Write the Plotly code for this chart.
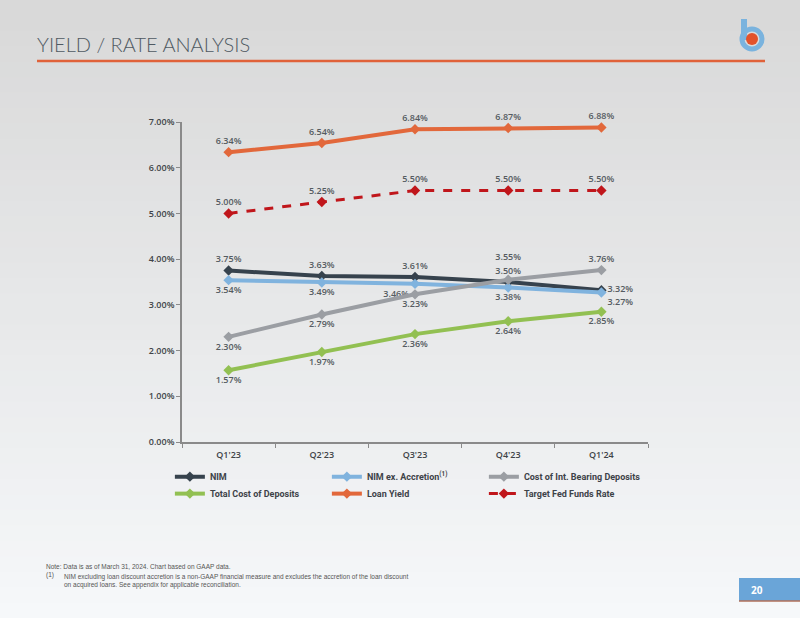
import plotly.graph_objects as go

quarters = ["Q1'23", "Q2'23", "Q3'23", "Q4'23", "Q1'24"]
nim = [3.75, 3.63, 3.61, 3.50, 3.32]
nim_ex = [3.54, 3.49, 3.46, 3.38, 3.27]
cost_ibd = [2.30, 2.79, 3.23, 3.55, 3.76]
total_cost = [1.57, 1.97, 2.36, 2.64, 2.85]
loan_yield = [6.34, 6.54, 6.84, 6.87, 6.88]
fed_funds = [5.00, 5.25, 5.50, 5.50, 5.50]
y_ticks = [0, 1, 2, 3, 4, 5, 6, 7]

W, H = 800, 618
L, R, T, B = 182, 152, 122, 176

# (name, values, colour, dashed, label positions, labels pushed up a line, legend row)
series = [
    ("NIM", nim, '#36424d', False,
     ['top center', 'top center', 'top center', 'top center', 'middle right'], [], 'legend'),
    ("NIM ex. Accretion<sup>(1)</sup>", nim_ex, '#80b3de', False,
     ['bottom center', 'bottom center', 'bottom left', 'bottom center', 'bottom right'], [], 'legend'),
    ("Cost of Int. Bearing Deposits", cost_ibd, '#9b9ea3', False,
     ['bottom center', 'bottom center', 'bottom center', 'top center', 'top center'], [3], 'legend'),
    ("Total Cost of Deposits", total_cost, '#92c052', False, ['bottom center'] * 5, [], 'legend2'),
    ("Loan Yield", loan_yield, '#e2683b', False, ['top center'] * 5, [], 'legend2'),
    ("Target Fed Funds Rate", fed_funds, '#c0161b', True, ['top center'] * 5, [], 'legend2'),
]

fig = go.Figure()
for name, vals, color, dashed, tpos, lifted, leg in series:
    labels = [f'{v:.2f}%' + ('<br> ' if i in lifted else '') for i, v in enumerate(vals)]
    fig.add_trace(go.Scatter(
        x=quarters, y=vals, name=name, mode='lines+markers+text', legend=leg,
        line=dict(color=color, width=3 if dashed else 4, dash='dash' if dashed else None),
        marker=dict(symbol='diamond', size=8, color=color),
        text=labels, textposition=tpos,
        textfont=dict(family='Open Sans', size=9, color='#555b61', weight=600),
        cliponaxis=False))


def px(x):
    return (x - L) / (W - L - R)


def py(y):
    return (H - B - y) / (H - T - B)


# background gradient, light grey at top to near white at bottom
shapes = []
steps = 40
for i in range(steps):
    f = i / (steps - 1)
    r = int(217 + (246 - 217) * f)
    g = int(217 + (248 - 217) * f)
    b = int(217 + (250 - 217) * f)
    shapes.append(dict(type='rect', xref='paper', yref='paper', layer='below',
                       x0=px(0), x1=px(W), y0=py((i + 1) * H / steps + 1), y1=py(i * H / steps),
                       fillcolor=f'rgb({r},{g},{b})', line=dict(width=0)))

# header rule
shapes.append(dict(type='line', xref='paper', yref='paper', x0=px(37), x1=px(765), y0=py(61), y1=py(61),
                   line=dict(color='#e0623a', width=2.5)))
# logo
shapes.append(dict(type='line', xref='paper', yref='paper', x0=px(744), x1=px(744), y0=py(19), y1=py(40),
                   line=dict(color='#7ab3de', width=6)))
shapes.append(dict(type='circle', xref='paper', yref='paper', x0=px(742), x1=px(762), y0=py(49), y1=py(29),
                   line=dict(color='#7ab3de', width=5)))
shapes.append(dict(type='circle', xref='paper', yref='paper', x0=px(746), x1=px(758), y0=py(45), y1=py(33),
                   fillcolor='#e2522b', line=dict(width=0)))
# page number box
shapes.append(dict(type='rect', xref='paper', yref='paper', x0=px(739), x1=px(802), y0=py(601), y1=py(578),
                   fillcolor='#6aa5d8', line=dict(width=0)))
shapes.append(dict(type='line', xref='paper', yref='paper', x0=px(739), x1=px(802), y0=py(601), y1=py(601),
                   line=dict(color='#b0705a', width=1.5)))

note_font = dict(family='Liberation Sans Narrow, Liberation Sans', size=6.5, color='#555')
annotations = [
    dict(text='YIELD / RATE ANALYSIS', x=px(35), y=py(44), xref='paper', yref='paper', xanchor='left',
         yanchor='middle', showarrow=False, font=dict(family='Lato', size=20, color='#4f5962', weight=300)),
    dict(text='20', x=px(757), y=py(590), xref='paper', yref='paper', xanchor='center', yanchor='middle',
         showarrow=False, font=dict(family='Open Sans', size=10, color='white', weight=700)),
    dict(text='Note: Data is as of March 31, 2024. Chart based on GAAP data.', x=px(44), y=py(566),
         xref='paper', yref='paper', xanchor='left', yanchor='middle', showarrow=False, font=note_font),
    dict(text='(1)', x=px(44), y=py(575), xref='paper', yref='paper', xanchor='left', yanchor='middle',
         showarrow=False, font=note_font),
    dict(text='NIM excluding loan discount accretion is a non-GAAP financial measure and excludes the accretion '
              'of the loan discount<br>on acquired loans. See appendix for applicable reconciliation.',
         x=px(62), y=py(571), xref='paper', yref='paper', xanchor='left', yanchor='top', align='left',
         showarrow=False, font=note_font),
]

legend_style = dict(orientation='h', x=-0.026, xanchor='left', yanchor='top',
                    entrywidth=112, entrywidthmode='pixels', bgcolor='rgba(0,0,0,0)',
                    font=dict(family='Roboto', size=9, color='#3d4248', weight=700),
                    tracegroupgap=0, itemwidth=30)

fig.update_layout(
    width=W, height=H, margin=dict(l=L, r=R, t=T, b=B, pad=0),
    paper_bgcolor='#e6e7e8', plot_bgcolor='rgba(0,0,0,0)',
    shapes=shapes, annotations=annotations,
    font=dict(family='Open Sans', color='#404448'),
    legend=dict(y=-0.063, **legend_style),
    legend2=dict(y=-0.116, **legend_style),
    showlegend=True,
)
fig.update_xaxes(type='category', range=[-0.5, 4.5], showgrid=False, showline=True, linecolor='#8a8a8a',
                 linewidth=1.5, ticks='outside', ticklen=4, tickcolor='#8a8a8a', tickson='boundaries',
                 ticklabelstandoff=3,
                 tickfont=dict(family='Open Sans', size=9, color='#404448', weight=600))
fig.update_yaxes(range=[0, 7], tickvals=y_ticks, ticktext=[f'{v:.2f}%' for v in y_ticks], showgrid=False,
                 zeroline=False, showline=True, linecolor='#8a8a8a', linewidth=1.5, ticks='outside', ticklen=4,
                 tickcolor='#8a8a8a', tickfont=dict(family='Open Sans', size=9, color='#404448', weight=600))

fig.write_html("out.html", config={'displayModeBar': False},
               post_script="document.body.style.margin='0';")
